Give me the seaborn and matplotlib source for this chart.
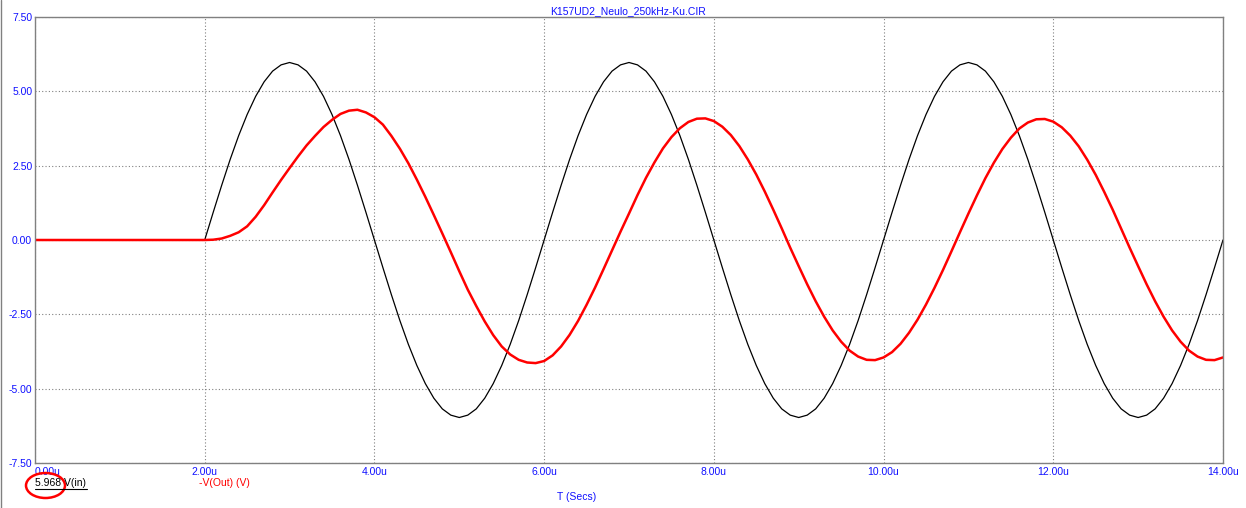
import numpy as np
import pandas as pd
import matplotlib
matplotlib.use('Agg')
import matplotlib.pyplot as plt
from matplotlib.lines import Line2D
from matplotlib.patches import Ellipse
import seaborn as sns

# время, мкс (шаг 0.1u)
t_us = np.round(np.linspace(0, 14, 141), 2)

# V(in) - входной сигнал
v_in = [0.0] * 21 + [
    0.93, 1.84, 2.71, 3.51, 4.22, 4.83, 5.32, 5.68, 5.89, 5.97,
    5.89, 5.68, 5.32, 4.83, 4.22, 3.51, 2.71, 1.84, 0.93, 0.0,
    -0.93, -1.84, -2.71, -3.51, -4.22, -4.83, -5.32, -5.68, -5.89, -5.97,
    -5.89, -5.68, -5.32, -4.83, -4.22, -3.51, -2.71, -1.84, -0.93, 0.0,
    0.93, 1.84, 2.71, 3.51, 4.22, 4.83, 5.32, 5.68, 5.89, 5.97,
    5.89, 5.68, 5.32, 4.83, 4.22, 3.51, 2.71, 1.84, 0.93, 0.0,
    -0.93, -1.84, -2.71, -3.51, -4.22, -4.83, -5.32, -5.68, -5.89, -5.97,
    -5.89, -5.68, -5.32, -4.83, -4.22, -3.51, -2.71, -1.84, -0.93, 0.0,
    0.93, 1.84, 2.71, 3.51, 4.22, 4.83, 5.32, 5.68, 5.89, 5.97,
    5.89, 5.68, 5.32, 4.83, 4.22, 3.51, 2.71, 1.84, 0.93, 0.0,
    -0.93, -1.84, -2.71, -3.51, -4.22, -4.83, -5.32, -5.68, -5.89, -5.97,
    -5.89, -5.68, -5.32, -4.83, -4.22, -3.51, -2.71, -1.84, -0.93, 0.0,
]

# -V(Out) - выход
v_out = [0.0] * 21 + [
    0.01, 0.05, 0.14, 0.26, 0.46, 0.78, 1.17, 1.60, 2.02, 2.42,
    2.81, 3.18, 3.50, 3.80, 4.04, 4.24, 4.35, 4.38, 4.29, 4.13,
    3.88, 3.50, 3.07, 2.58, 2.03, 1.45, 0.84, 0.22, -0.41, -1.05,
    -1.67, -2.22, -2.74, -3.20, -3.58, -3.85, -4.03, -4.12, -4.14, -4.07,
    -3.88, -3.58, -3.19, -2.72, -2.18, -1.60, -0.98, -0.35, 0.28,
    0.89, 1.51, 2.09, 2.61, 3.08, 3.46, 3.76, 3.97, 4.08, 4.09,
    4.00, 3.81, 3.53, 3.16, 2.71, 2.20, 1.63, 1.02, 0.39,
    -0.26, -0.88, -1.49, -2.06, -2.58, -3.04, -3.42, -3.72, -3.92, -4.03,
    -4.04, -3.95, -3.77, -3.49, -3.12, -2.68, -2.17, -1.61, -1.01, -0.38,
    0.26, 0.89, 1.50, 2.08, 2.60, 3.06, 3.44, 3.75, 3.95, 4.06,
    4.07, 3.98, 3.79, 3.51, 3.15, 2.70, 2.19, 1.62, 1.02, 0.38,
    -0.26, -0.88, -1.49, -2.06, -2.58, -3.04, -3.42, -3.72, -3.92, -4.03,
    -4.04, -3.95,
]

x_ticks = [0, 2, 4, 6, 8, 10, 12, 14]
y_ticks = [-7.5, -5.0, -2.5, 0.0, 2.5, 5.0, 7.5]
title = 'K157UD2_Neulo_250kHz-Ku.CIR'

df = pd.DataFrame({'t': t_us, 'vin': v_in, 'vout': v_out})

sns.set_style('white')
plt.rcParams['font.family'] = ['Liberation Sans', 'DejaVu Sans']
fs = 7.5

fig = plt.figure(figsize=(12.46, 5.08), dpi=100)
ax = fig.add_axes([35 / 1246, 1 - 463 / 508, 1188 / 1246, 446 / 508])

sns.lineplot(data=df, x='t', y='vin', color='black', lw=0.9, ax=ax)
sns.lineplot(data=df, x='t', y='vout', color='#ff0000', lw=1.8, ax=ax)

ax.set_xlim(0, 14)
ax.set_ylim(-7.5, 7.5)
ax.set_xticks(x_ticks)
ax.set_yticks(y_ticks)
ax.set_xticklabels([f'{v:.2f}u' for v in x_ticks])
ax.set_yticklabels([f'{v:.2f}' for v in y_ticks])
ax.get_xticklabels()[0].set_ha('left')
ax.tick_params(axis='both', length=0, labelsize=fs, labelcolor='#1010ff')
ax.tick_params(axis='y', pad=2)
ax.tick_params(axis='x', pad=3)
ax.set_xlabel('')
ax.set_ylabel('')
ax.grid(True, color='#808080', linestyle=(0, (1, 2)), lw=0.8)
for s in ax.spines.values():
    s.set_color('#808080')
    s.set_linewidth(1.0)

# заголовок и подписи
fig.text(628 / 1246, 1 - 11 / 508, title, color='#1010ff', fontsize=fs,
         ha='center', va='center')
fig.text(577 / 1246, 1 - 497 / 508, 'T (Secs)', color='#1010ff', fontsize=fs,
         ha='center', va='center')
fig.text(35 / 1246, 1 - 483 / 508, '5.968 V(in)', color='black', fontsize=fs,
         ha='left', va='center')
fig.text(199 / 1246, 1 - 483 / 508, '-V(Out) (V)', color='#ff0000', fontsize=fs,
         ha='left', va='center')
fig.add_artist(Line2D([35 / 1246, 87 / 1246], [1 - 489 / 508, 1 - 489 / 508],
                      color='black', lw=0.8))
fig.add_artist(Ellipse((45.5 / 1246, 1 - 485.5 / 508), 39 / 1246, 25 / 508,
                       transform=fig.transFigure, fill=False,
                       edgecolor='#ff0000', lw=1.8))
fig.add_artist(Line2D([1 / 1246, 1 / 1246], [0, 1], color='#808080', lw=1.0))

plt.savefig('out.png', dpi=100)
